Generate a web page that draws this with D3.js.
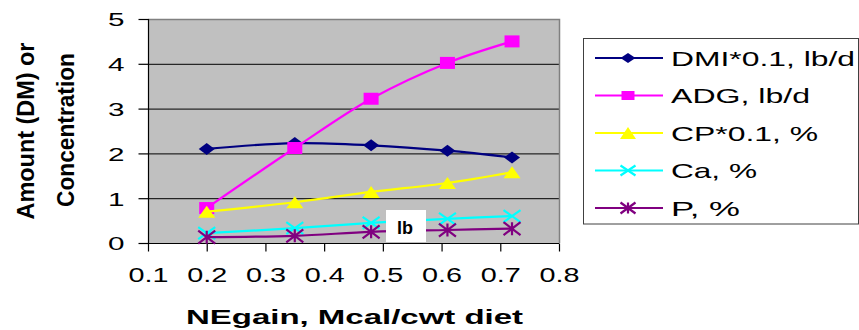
<!DOCTYPE html>
<html><head><meta charset="utf-8">
<script src="https://cdn.jsdelivr.net/npm/d3@7"></script>
<style>
html,body{margin:0;padding:0;background:#fff;}
svg{display:block;font-family:"Liberation Sans",Arial,sans-serif;}
</style></head>
<body>
<svg id="chart" width="859" height="330"></svg>
<script>
// ---- data ----
const negain = [0.2, 0.35, 0.48, 0.61, 0.72];
const dmi = [2.10, 2.23, 2.18, 2.06, 1.91];
const adg = [0.78, 2.12, 3.22, 4.02, 4.50];
const cp  = [0.70, 0.91, 1.14, 1.34, 1.58];
const ca  = [0.22, 0.33, 0.45, 0.54, 0.60];
const p   = [0.13, 0.16, 0.25, 0.29, 0.32];
const seriesNames = ["DMI*0.1, lb/d", "ADG, lb/d", "CP*0.1, %", "Ca, %", "P, %"];
const xTicks = [0.1, 0.2, 0.3, 0.4, 0.5, 0.6, 0.7, 0.8];
const yTicks = [0, 1, 2, 3, 4, 5];
const xTitle = "NEgain, Mcal/cwt diet";
const yTitle1 = "Amount (DM) or";
const yTitle2 = "Concentration";
const noteLabel = "lb";

const colors = ["#000080", "#FF00FF", "#FFFF00", "#00FFFF", "#800080"];
const shapes = ["diamond", "square", "triangle", "x", "star"];
const values = [dmi, adg, cp, ca, p];

const svg = d3.select("#chart");
const L = 148, R = 559, T = 19, B = 243;
const x = d3.scaleLinear().domain([0.1, 0.8]).range([L, R]);
const y = d3.scaleLinear().domain([0, 5]).range([B, T]);

// plot area
svg.append("rect").attr("x", L).attr("y", T).attr("width", R - L).attr("height", B - T)
  .attr("fill", "#C0C0C0");
// gridlines
svg.append("g").selectAll("line").data(yTicks.filter(d => d > 0 && d < 5)).join("line")
  .attr("x1", L).attr("x2", R).attr("y1", d => y(d) + 0.5).attr("y2", d => y(d) + 0.5)
  .attr("stroke", "#000").attr("stroke-width", 1);
// top & right border
svg.append("path").attr("d", `M${L},${T + 0.5}H${R + 0.5}V${B}`).attr("fill", "none")
  .attr("stroke", "#808080").attr("stroke-width", 1.5);

// axes
const yAxis = svg.append("g").attr("transform", `translate(${L + 0.5},0)`)
  .call(d3.axisLeft(y).tickValues(yTicks).tickSize(10).tickFormat(d3.format("d")));
const xAxis = svg.append("g").attr("transform", `translate(0,${B + 0.5})`)
  .call(d3.axisBottom(x).tickValues(xTicks).tickSize(8).tickFormat(d3.format(".1f")));
[yAxis, xAxis].forEach(g => {
  g.select(".domain").attr("stroke", "#000").attr("stroke-width", 1.2);
  g.selectAll(".tick line").attr("stroke", "#000").attr("stroke-width", 1.2);
});
yAxis.select(".domain").attr("d", `M0,${T}V${B}`);
xAxis.select(".domain").attr("d", `M${L},0H${R}`);
yAxis.selectAll(".tick text")
  .attr("font-size", 19).attr("fill", "#000").attr("font-family", "Liberation Sans, Arial, sans-serif")
  .attr("x", -24).attr("dy", "0.36em").attr("text-anchor", "end")
  .attr("textLength", 16.5).attr("lengthAdjust", "spacingAndGlyphs");
xAxis.selectAll(".tick text")
  .attr("font-size", 20).attr("fill", "#000").attr("font-family", "Liberation Sans, Arial, sans-serif")
  .attr("y", 38.5).attr("dy", 0).attr("text-anchor", "middle")
  .attr("textLength", 40).attr("lengthAdjust", "spacingAndGlyphs");

// marker generator
function marker(sel, shape, color, w, h) {
  const hw = w / 2, hh = h / 2;
  if (shape === "diamond") {
    sel.append("path").attr("d", `M0,${-hh}L${hw},0L0,${hh}L${-hw},0Z`).attr("fill", color);
  } else if (shape === "square") {
    sel.append("rect").attr("x", -hw).attr("y", -hh).attr("width", w).attr("height", h).attr("fill", color);
  } else if (shape === "triangle") {
    sel.append("path").attr("d", `M0,${-hh}L${hw},${hh}L${-hw},${hh}Z`).attr("fill", color);
  } else if (shape === "x") {
    sel.append("path").attr("d", `M${-hw},${-hh}L${hw},${hh}M${-hw},${hh}L${hw},${-hh}`)
      .attr("stroke", color).attr("stroke-width", 2.2).attr("fill", "none");
  } else if (shape === "star") {
    sel.append("path").attr("d", `M${-hw},${-hh}L${hw},${hh}M${-hw},${hh}L${hw},${-hh}M0,${-hh}V${hh}`)
      .attr("stroke", color).attr("stroke-width", 2.2).attr("fill", "none");
  }
}
const markerSize = {diamond: [16, 12], square: [15, 12], triangle: [17, 12], x: [17, 12], star: [17, 13]};
const legendSize = {diamond: [15, 10], square: [13, 9], triangle: [16, 12], x: [15, 10], star: [15, 11]};

// series lines and markers
const line = d3.line().x((d, i) => x(negain[i])).y(d => y(d)).curve(d3.curveCatmullRom.alpha(0.5));
values.forEach((vals, si) => {
  const g = svg.append("g");
  g.append("path").attr("d", line(vals)).attr("fill", "none")
    .attr("stroke", colors[si]).attr("stroke-width", 2.2);
  vals.forEach((v, i) => {
    const m = g.append("g").attr("transform", `translate(${x(negain[i])},${y(v)})`);
    const [w, h] = markerSize[shapes[si]];
    marker(m, shapes[si], colors[si], w, h);
  });
});

// "lb" note box
svg.append("rect").attr("x", 386).attr("y", 210).attr("width", 40).attr("height", 32).attr("fill", "#fff");
svg.append("text").attr("x", 405).attr("y", 233.5).attr("text-anchor", "middle")
  .attr("font-size", 18).attr("font-weight", "bold").text(noteLabel);

// legend
svg.append("rect").attr("x", 583.5).attr("y", 38.5).attr("width", 275).attr("height", 185.5)
  .attr("fill", "#fff").attr("stroke", "#404040").attr("stroke-width", 1);
const legendWidths = [184, 139, 147, 86, 69];
seriesNames.forEach((name, si) => {
  const cy = 58 + si * 37.5;
  const g = svg.append("g");
  g.append("line").attr("x1", 595).attr("x2", 663).attr("y1", cy).attr("y2", cy)
    .attr("stroke", colors[si]).attr("stroke-width", 2);
  const m = g.append("g").attr("transform", `translate(628,${cy})`);
  const [w, h] = legendSize[shapes[si]];
  marker(m, shapes[si], colors[si], w, h);
  g.append("text").attr("x", 671).attr("y", cy + 7.5).attr("font-size", 21).attr("fill", "#000")
    .attr("textLength", legendWidths[si]).attr("lengthAdjust", "spacingAndGlyphs").text(name);
});

// axis titles
svg.append("text").attr("x", 354.5).attr("y", 324).attr("text-anchor", "middle")
  .attr("font-size", 20).attr("font-weight", "bold")
  .attr("textLength", 337).attr("lengthAdjust", "spacingAndGlyphs").text(xTitle);
svg.append("text").attr("transform", "translate(34,131) rotate(-90)").attr("text-anchor", "middle")
  .attr("font-size", 24).attr("font-weight", "bold")
  .attr("textLength", 177).attr("lengthAdjust", "spacingAndGlyphs").text(yTitle1);
svg.append("text").attr("transform", "translate(74,130) rotate(-90)").attr("text-anchor", "middle")
  .attr("font-size", 24).attr("font-weight", "bold")
  .attr("textLength", 154).attr("lengthAdjust", "spacingAndGlyphs").text(yTitle2);
</script>
</body></html>
